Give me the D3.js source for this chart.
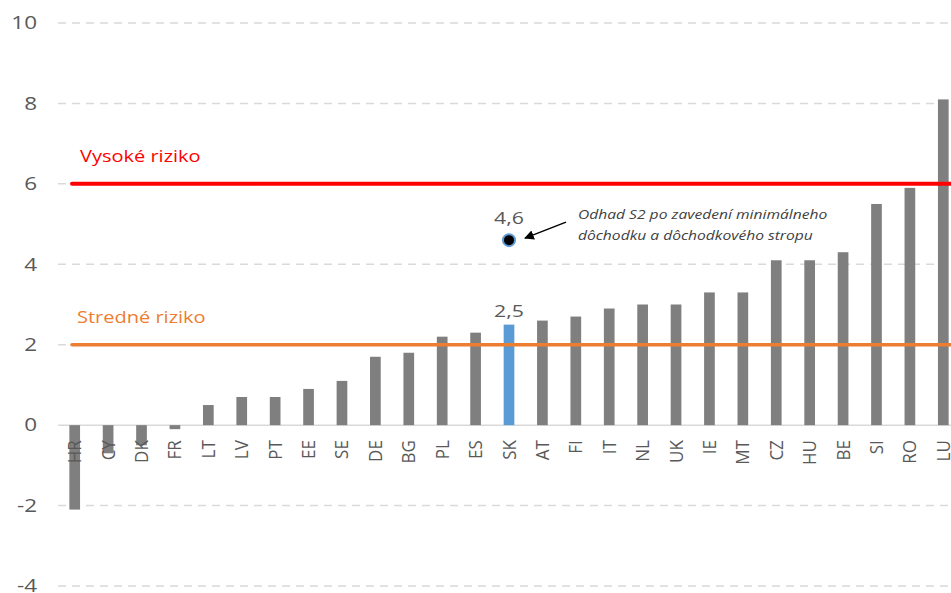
<!DOCTYPE html>
<html>
<head>
<meta charset="utf-8">
<script src="https://cdnjs.cloudflare.com/ajax/libs/d3/7.8.5/d3.min.js"></script>
<style>
  body { margin: 0; background: #fff; }
  svg text { font-family: "Open Sans", "Noto Sans", sans-serif; }
</style>
</head>
<body>
<svg id="chart" width="951" height="593"></svg>
<script>
// data
var countries = ["HR","CY","DK","FR","LT","LV","PT","EE","SE","DE","BG","PL","ES","SK",
                 "AT","FI","IT","NL","UK","IE","MT","CZ","HU","BE","SI","RO","LU"];
var values = [-2.1,-0.7,-0.5,-0.1,0.5,0.7,0.7,0.9,1.1,1.7,1.8,2.2,2.3,2.5,
              2.6,2.7,2.9,3.0,3.0,3.3,3.3,4.1,4.1,4.3,5.5,5.9,8.1];
var yTicks = [-4,-2,0,2,4,6,8,10];
var highlight = "SK";
var riskLines = [{label: "Vysoké riziko", value: 6, color: "#ff0000"},
                 {label: "Stredné riziko", value: 2, color: "#ed7d31"}];
var estimate = {country: "SK", value: 4.6, label: "4,6"};
var noteLines = ["Odhad S2 po zavedení minimálneho", "dôchodku  a dôchodkového stropu"];

var svg = d3.select("#chart");
var stretch = 1.25; // the original picture is a bit wider than tall

var x = d3.scaleBand().domain(countries).range([58, 960]).paddingInner(0.68).paddingOuter(0.34),
    y = d3.scaleLinear().domain([-4, 10]).range([586, 23]);

var fmt = function (v) { return d3.format(".1f")(v).replace(".", ",").replace("\u2212", "-"); };

// horizontal text, stretched like the source
function label(g, tx, ty, str, anchor) {
    return g.append("text")
        .attr("transform", "translate(" + tx + "," + ty + ") scale(" + stretch + ",1)")
        .attr("text-anchor", anchor || "start")
        .text(str);
}

// grid
svg.append("g").selectAll("line")
    .data(yTicks.filter(function (d) { return d !== 0; }))
    .enter().append("line")
    .attr("x1", 58).attr("x2", 951)
    .attr("y1", function (d) { return y(d); })
    .attr("y2", function (d) { return y(d); })
    .attr("stroke", "#d9d9d9").attr("stroke-width", 1.5)
    .attr("stroke-dasharray", "8,6");

// y axis labels
var yAxis = d3.axisLeft(y).tickValues(yTicks).tickSize(0).tickPadding(0)
    .tickFormat(function (d) { return String(d); });
svg.append("g")
    .attr("transform", "translate(37,0)")
    .call(yAxis)
    .call(function (g) { g.select(".domain").remove(); })
    .selectAll("text")
    .attr("font-size", 18).attr("fill", "#595959")
    .attr("transform", "scale(" + stretch + ",1)")
    .style("font-family", "'Open Sans', sans-serif");

// zero line
svg.append("line")
    .attr("x1", 58).attr("x2", 951)
    .attr("y1", y(0)).attr("y2", y(0))
    .attr("stroke", "#d9d9d9").attr("stroke-width", 1.5);

// bars
svg.append("g").selectAll("rect")
    .data(countries)
    .enter().append("rect")
    .attr("x", function (d) { return x(d); })
    .attr("width", x.bandwidth())
    .attr("y", function (d, i) { return y(Math.max(0, values[i])); })
    .attr("height", function (d, i) { return Math.abs(y(values[i]) - y(0)); })
    .attr("fill", function (d) { return d === highlight ? "#5b9bd5" : "#7f7f7f"; });

// category labels
svg.append("g").selectAll("text")
    .data(countries)
    .enter().append("text")
    .attr("transform", function (d) {
        return "translate(" + (x(d) + x.bandwidth() / 2 + 6.5) + "," + (y(0) + 15) + ") rotate(-90) scale(1,1.1)";
    })
    .attr("text-anchor", "end")
    .attr("font-size", 17)
    .attr("fill", "#595959")
    .text(function (d) { return d; });

// risk lines
riskLines.forEach(function (r) {
    svg.append("line")
        .attr("x1", 72).attr("x2", 951)
        .attr("y1", y(r.value)).attr("y2", y(r.value))
        .attr("stroke", r.color)
        .attr("stroke-width", r.value === 6 ? 4 : 3.5)
        .attr("stroke-linecap", "round");
    label(svg, r.value === 6 ? 80 : 77, y(r.value) - 22, r.label)
        .attr("font-size", 16)
        .attr("fill", r.color);
});

// SK value label
var skIdx = countries.indexOf(highlight);
label(svg, x(highlight) + x.bandwidth() / 2, y(values[skIdx]) - 8, fmt(values[skIdx]), "middle")
    .attr("font-size", 17).attr("fill", "#595959");

// estimate point
var ex = x(estimate.country) + x.bandwidth() / 2, ey = y(estimate.value);
svg.append("circle")
    .attr("cx", ex).attr("cy", ey).attr("r", 6)
    .attr("fill", "#000").attr("stroke", "#5b9bd5").attr("stroke-width", 2);
label(svg, ex, ey - 16, estimate.label, "middle")
    .attr("font-size", 17).attr("fill", "#595959");

// arrow
svg.append("defs").append("marker")
    .attr("id", "arrow").attr("viewBox", "0 0 10 10")
    .attr("refX", 9).attr("refY", 5)
    .attr("markerWidth", 6.5).attr("markerHeight", 6.5)
    .attr("orient", "auto")
    .append("path").attr("d", "M0,0L10,5L0,10z").attr("fill", "#000");
svg.append("line")
    .attr("x1", ex + 57).attr("y1", ey - 18)
    .attr("x2", ex + 16).attr("y2", ey - 2)
    .attr("stroke", "#000").attr("stroke-width", 1.5)
    .attr("marker-end", "url(#arrow)");

// note
noteLines.forEach(function (t, i) {
    label(svg, ex + 69, ey - 21 + i * 21, t)
        .attr("font-size", 12.5)
        .attr("font-style", "italic")
        .attr("fill", "#404040");
});
</script>
</body>
</html>
